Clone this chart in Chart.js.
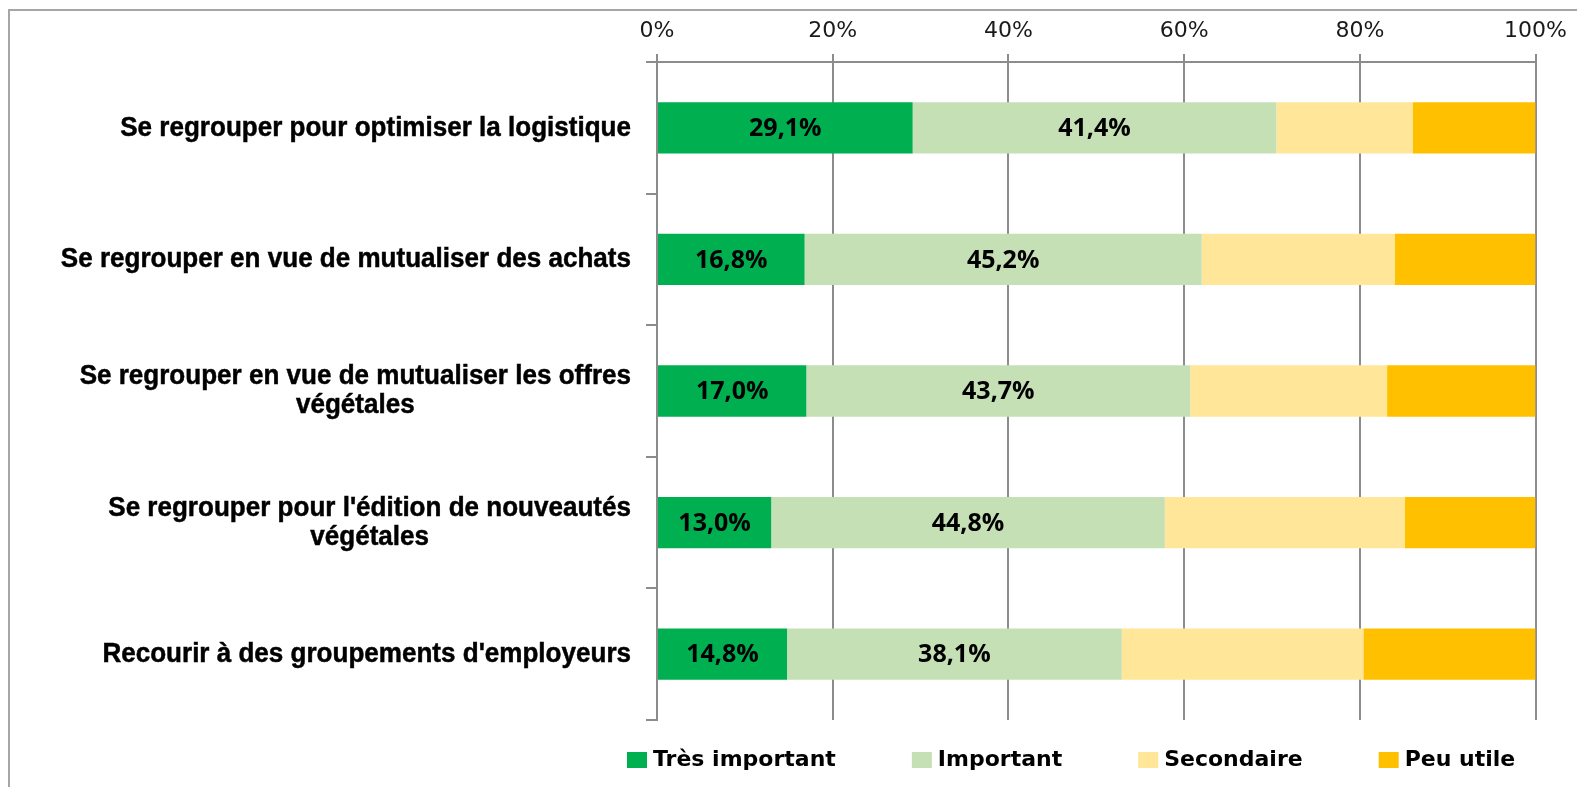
<!DOCTYPE html>
<html lang="fr">
<head>
<meta charset="utf-8">
<script src="https://cdn.jsdelivr.net/npm/chart.js@4.4.1/dist/chart.umd.min.js"></script>
<style>
  body { margin: 0; background: #fff; }
  canvas { display: block; }
</style>
</head>
<body>
<canvas id="graphique" width="1577" height="787"></canvas>
<script>
const categories = [
  ["Se regrouper pour optimiser la logistique"],
  ["Se regrouper en vue de mutualiser des achats"],
  ["Se regrouper en vue de mutualiser les offres", "végétales"],
  ["Se regrouper pour l'édition de nouveautés", "végétales"],
  ["Recourir à des groupements d'employeurs"]
];
const series = ["Très important", "Important", "Secondaire", "Peu utile"];
const tresImportant = [29.1, 16.8, 17.0, 13.0, 14.8];
const important = [41.4, 45.2, 43.7, 44.8, 38.1];
const secondaire = [15.5, 22.0, 22.4, 27.3, 27.5];
const peuUtile = [14.0, 16.0, 16.9, 14.9, 19.6];
const couleurs = ["#00B050", "#C5E0B4", "#FFE699", "#FFC000"];
const ticksX = [0, 20, 40, 60, 80, 100];

const gris = "#8c8c8c";

// cadre gris autour du graphique
const cadre = {
  id: "cadre",
  beforeDraw(chart) {
    const ctx = chart.ctx;
    ctx.save();
    ctx.strokeStyle = "#a6a6a6";
    ctx.lineWidth = 2;
    ctx.strokeRect(9, 10, chart.width + 20, chart.height + 20);
    ctx.restore();
  }
};

// étiquettes des catégories (alignées à droite, 2e ligne centrée)
const etiquettesY = {
  id: "etiquettesY",
  afterDraw(chart) {
    const ctx = chart.ctx;
    const scaleY = chart.scales.y;
    const droite = chart.chartArea.left - 26;
    const serre = 0.93; // police un peu étroite
    ctx.save();
    ctx.font = 'bold 28px "Liberation Sans", Arial, sans-serif';
    ctx.fillStyle = "#000";
    ctx.strokeStyle = "#000";
    ctx.lineWidth = 0.5;
    ctx.textAlign = "center";
    ctx.textBaseline = "middle";
    categories.forEach((lignes, i) => {
      const y = scaleY.getPixelForValue(i);
      const largeur = Math.max(...lignes.map(l => ctx.measureText(l).width)) * serre;
      const centre = droite - largeur / 2;
      const h = 29;
      lignes.forEach((l, j) => {
        ctx.save();
        ctx.translate(centre, y + (j - (lignes.length - 1) / 2) * h);
        ctx.scale(serre, 1);
        ctx.fillText(l, 0, 0);
        ctx.strokeText(l, 0, 0);
        ctx.restore();
      });
    });
    ctx.restore();
  }
};

// valeurs dans les deux premières séries
const valeurs = {
  id: "valeurs",
  afterDatasetsDraw(chart) {
    const ctx = chart.ctx;
    ctx.save();
    ctx.font = 'bold 25px "Open Sans", "DejaVu Sans", sans-serif';
    ctx.fillStyle = "#000";
    ctx.textAlign = "center";
    ctx.textBaseline = "middle";
    [0, 1].forEach(d => {
      chart.getDatasetMeta(d).data.forEach((barre, i) => {
        const v = chart.data.datasets[d].data[i];
        const texte = v.toFixed(1).replace(".", ",") + "%";
        ctx.fillText(texte, (barre.x + barre.base) / 2, barre.y + 1);
      });
    });
    ctx.restore();
  }
};

// légende en bas
const legendeBas = {
  id: "legendeBas",
  afterDraw(chart) {
    const ctx = chart.ctx;
    ctx.save();
    ctx.font = 'bold 22px "DejaVu Sans", Verdana, sans-serif';
    ctx.textBaseline = "middle";
    let x = chart.chartArea.left - 30;
    const y = chart.chartArea.bottom + 40;
    series.forEach((nom, i) => {
      ctx.fillStyle = couleurs[i];
      ctx.fillRect(x, y - 8, 20, 16);
      ctx.fillStyle = "#000";
      ctx.fillText(nom, x + 26, y);
      x += 26 + ctx.measureText(nom).width + 76;
    });
    ctx.restore();
  }
};

const jeux = [tresImportant, important, secondaire, peuUtile].map((donnees, i) => ({
  label: series[i],
  data: donnees,
  backgroundColor: couleurs[i],
  borderWidth: 0,
  barPercentage: 0.39,
  categoryPercentage: 1
}));

new Chart(document.getElementById("graphique"), {
  type: "bar",
  data: {
    labels: categories,
    datasets: jeux
  },
  options: {
    indexAxis: "y",
    responsive: false,
    animation: false,
    layout: {
      padding: { top: 0, left: 0, right: 37, bottom: 67 }
    },
    plugins: {
      legend: { display: false },
      tooltip: { enabled: false }
    },
    scales: {
      x: {
        position: "top",
        stacked: true,
        min: 0,
        max: 100,
        afterBuildTicks: axe => {
          axe.ticks = ticksX.map(v => ({ value: v }));
        },
        afterFit: axe => { axe.height = 62; },
        grid: {
          color: gris,
          lineWidth: 2,
          tickLength: 8
        },
        border: { color: gris, width: 2 },
        ticks: {
          padding: 10,
          maxRotation: 0,
          color: "#1a1a1a",
          font: { family: '"DejaVu Sans", Verdana, sans-serif', size: 22 },
          callback: v => v + "%"
        }
      },
      y: {
        stacked: true,
        afterFit: axe => { axe.width = 657; },
        grid: {
          drawOnChartArea: false,
          color: gris,
          lineWidth: 2,
          tickLength: 11
        },
        border: { color: gris, width: 2 },
        ticks: { display: false }
      }
    }
  },
  plugins: [cadre, valeurs, etiquettesY, legendeBas]
});
</script>
</body>
</html>
